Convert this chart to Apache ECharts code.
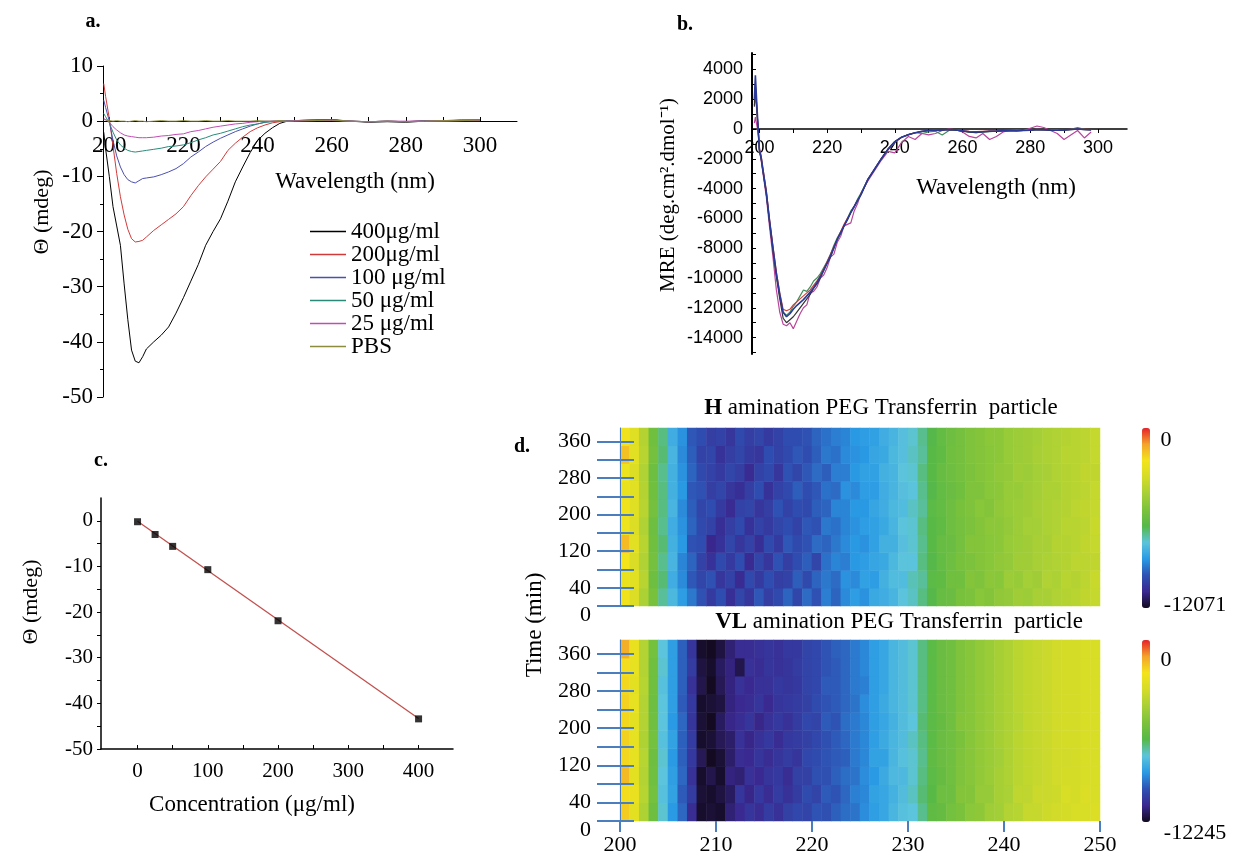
<!DOCTYPE html>
<html>
<head>
<meta charset="utf-8">
<title>CD spectra</title>
<script src="https://cdn.jsdelivr.net/npm/echarts@6/dist/echarts.min.js"></script>
<style>
  html, body { margin: 0; padding: 0; background: #fff; }
  #chart { width: 1233px; height: 862px; }
</style>
</head>
<body>
<div id="chart"></div>
<script>
// a. CD spectra at several concentrations (mdeg)
var waveA = [198.5, 199, 200, 201, 202, 203, 204, 205, 206, 207, 208, 209, 210,
  212, 214, 216, 218, 220, 222, 224, 226, 228, 230, 232, 234, 236, 238, 240, 242, 244, 246, 248, 250,
  255, 260, 265, 270, 275, 280, 285, 290, 295, 300]
var cd400 = [-2, -5, -10, -15.5, -19, -22.5, -29.5, -36, -41.5, -43.5, -43.8, -42.7, -41.3,
  -40, -38.8, -37.3, -34.8, -32, -29, -26, -22.5, -20, -17.7, -14.5, -11, -8.3, -5.7, -3.5, -2.2, -1.2, -0.4, 0, 0.1,
  0.2, 0.3, 0, -0.2, -0.1, -0.2, 0, 0.1, 0.2, 0.2]
var cd200 = [6.8, 4.5, 0.5, -4.5, -9.5, -13.7, -17, -19.6, -21.3, -21.9, -21.8, -21.6, -21,
  -19.8, -18.8, -17.8, -16.8, -15.5, -13.5, -11.7, -10.1, -8.7, -7.3, -5.3, -4, -2.9, -1.9, -1.2, -0.7, -0.3, -0.1, 0, 0.1,
  0.2, 0.2, 0, -0.1, 0, -0.1, 0.1, 0, 0.2, 0.2]
var cd100 = [3.8, 2.5, 0, -3.5, -6.3, -8.3, -9.7, -10.6, -11, -11.2, -10.8, -10.4, -10.3,
  -10.1, -9.7, -9.2, -8.6, -7.7, -6.5, -5.6, -4.6, -3.8, -3.1, -2.5, -1.9, -1.4, -0.9, -0.5, -0.2, 0, 0, 0.1, 0.1,
  0.2, 0.2, 0, -0.1, 0, -0.1, 0.1, 0, 0.1, 0.2]
var cd50 = [1.4, 0.8, -0.3, -2, -3.4, -4.3, -4.9, -5.3, -5.5, -5.6, -5.5, -5.4, -5.3,
  -5.1, -4.9, -4.6, -4.5, -4.3, -3.9, -3.4, -3, -2.5, -2.2, -1.8, -1.4, -1, -0.7, -0.5, -0.2, -0.1, 0, 0, 0.1,
  0.1, 0.2, 0, -0.1, 0, -0.1, 0, 0, 0.1, 0.1]
var cd25 = [0.5, 0.3, -0.2, -1, -1.6, -2.1, -2.5, -2.7, -2.8, -2.9, -3, -3, -3,
  -2.9, -2.7, -2.6, -2.4, -2.3, -1.9, -1.7, -1.4, -1.1, -0.9, -0.7, -0.5, -0.4, -0.2, -0.1, 0, 0, 0, 0, 0.1,
  0.1, 0.1, 0, -0.1, 0, 0, 0, 0.1, 0.1, 0.1]
var cdPBS = [0.3, 0.2, 0.1, 0, 0.1, 0, 0, -0.1, 0, 0.1, 0, 0, -0.1,
  0, 0.1, 0, 0, 0.1, 0, 0, 0.1, 0, 0, 0.1, 0, 0, 0, 0.1, 0, 0, 0.1, 0, 0,
  0.1, 0.2, 0, -0.1, 0, -0.1, 0, 0.1, 0.1, 0.2]
var concNames = ['400μg/ml', '200μg/ml', '100 μg/ml', '50 μg/ml', '25 μg/ml', 'PBS']

// b. mean residue ellipticity
var waveB = [198.5, 198.8, 199.2, 199.6, 200, 200.5,
  201, 202, 203, 204, 205, 206, 207, 208, 209, 210, 211, 212, 213, 214, 215,
  216, 217, 218, 219, 220, 221, 222, 223, 224, 225, 226, 227, 228, 229, 230,
  232, 234, 236, 238, 240, 242, 244, 246, 248, 250, 252, 254, 256, 258, 260, 262, 264,
  266, 268, 270, 272, 274, 276, 278, 280, 282, 284, 286, 288, 290, 292, 294, 296, 298]
var mreNavy = [2000, 3600, 1800, 100, -1400, -1900,
  -2700, -4200, -6200, -8000, -9700, -11100, -12300, -12600, -12400, -12100, -11850, -11650, -11450, -11200, -10950,
  -10650, -10300, -9900, -9450, -9000, -8500, -7950, -7400, -6950, -6500, -6050, -5600, -5200, -4800, -4400,
  -3400, -2700, -2000, -1350, -850, -550, -380, -250, -160, -100, -80, -60, -30, -60, -120, -180, -200,
  -180, -150, -140, -120, -100, -110, -100, -80, -30, -50, -70, -80, -60, -30, 0, -30, -50]
var mreBlack = [1500, 3000, 1500, 0, -1500, -2000,
  -2800, -4300, -6300, -8200, -9900, -11400, -12700, -13000, -12800, -12600, -12300, -12000, -11700, -11400, -11100,
  -10700, -10400, -10000, -9500, -9000, -8600, -8000, -7400, -7000, -6500, -6100, -5600, -5200, -4800, -4400,
  -3400, -2700, -2000, -1350, -850, -550, -380, -250, -170, -110, -90, -70, -50, -80, -150, -220, -250,
  -200, -160, -150, -130, -110, -120, -100, -90, -40, -60, -90, -100, -70, -40, -10, -40, -60]
var mreRed = [1800, 2800, 1400, 0, -1300, -1800,
  -2600, -4100, -6100, -7900, -9600, -11000, -12100, -12200, -12100, -11800, -11600, -11400, -11200, -11000, -10800,
  -10500, -10200, -9800, -9400, -8900, -8400, -7900, -7400, -6900, -6400, -6000, -5600, -5200, -4800, -4400,
  -3400, -2700, -2000, -1400, -900, -550, -380, -250, -150, -100, -70, -50, -20, -40, -100, -150, -170,
  -150, -130, -120, -100, -90, -100, -90, -70, -20, -40, -60, -70, -50, -20, 0, -20, -40]
var mreGreen = [1600, 2200, 1300, 100, -1400, -1900,
  -2700, -4200, -6200, -8000, -9800, -11200, -12300, -12500, -12300, -11900, -11600, -11200, -10800, -10900, -10600,
  -10200, -10000, -9700, -9300, -8900, -8400, -7800, -7300, -6900, -6500, -6000, -5500, -5200, -4700, -4300,
  -3400, -2700, -2000, -1350, -850, -550, -380, -250, -300, -200, -150, -400, -100, -60, -150, -200, -250,
  -200, -180, -150, -120, -100, -120, -100, -80, -30, -60, -80, -60, -60, -30, 100, -20, -40]
var mreMagenta = [400, 800, 300, -200, -1400, -2100,
  -2900, -4500, -6600, -8600, -10800, -12300, -13100, -13200, -13000, -13400, -12900, -12400, -12000, -11800, -11000,
  -10900, -10600, -10000, -9800, -9300, -8600, -8400, -7600, -7200, -6500, -6400, -6300, -5500, -5000, -4300,
  -3500, -2800, -2100, -1500, -1600, -900, -500, -700, -300, -400, -300, -100, 0, -50, -200, -500, -600,
  -300, -700, -500, -200, -100, -50, -100, 50, 200, 100, -100, -300, -700, -400, -100, -600, -200]

// c. ellipticity at 208 nm against concentration
var conc = [0, 25, 50, 100, 200, 400]
var theta = [-0.2, -3, -5.6, -10.7, -21.9, -43.4]
var fitConc = [0, 400]
var fitTheta = [-0.1, -43.3]

// d. MRE over time, 1 nm columns, 39 min rows (bottom row first)
var heatWave = [200, 201, 202, 203, 204, 205, 206, 207, 208, 209, 210, 211, 212, 213, 214, 215, 216, 217, 218, 219,
  220, 221, 222, 223, 224, 225, 226, 227, 228, 229, 230, 231, 232, 233, 234, 235, 236, 237, 238, 239,
  240, 241, 242, 243, 244, 245, 246, 247, 248, 249]
var heatTime = [0, 39, 78, 117, 156, 195, 234, 273, 312, 351]
var heatH = [
  [-2300, -3000, -4300, -5600, -7200, -8000, -8700,
   -9300, -9900, -10500, -10000, -10800, -10200, -10600, -9800, -10400, -10100, -9600, -10200, -9500, -9900, -9200, -9600,
   -9000, -8700, -8900, -8400, -8300, -8100, -7700, -7500,
   -7000, -6600, -6100, -6000, -5600, -5500, -5200, -5300, -5000, -4900, -4600, -4700, -4400, -4400, -4200, -4100, -4000, -3800, -3700],
  [-2500, -2800, -4000, -5900, -6900, -8300, -9000,
   -9800, -10200, -9900, -10600, -10300, -10900, -10100, -10500, -10000, -10400, -10300, -9700, -10100, -9600, -9300, -9500,
   -8900, -9000, -8600, -8700, -8200, -7900, -7900, -7400,
   -7200, -6400, -6300, -5800, -5800, -5300, -5400, -5100, -5200, -4700, -4800, -4500, -4600, -4200, -4300, -4000, -4100, -3900, -3600],
  [-2200, -3100, -4200, -5700, -7100, -8100, -9100,
   -9600, -10300, -10700, -10100, -10500, -10000, -10900, -10200, -10600, -9900, -10400, -10000, -9700, -10200, -9400, -9100,
   -9200, -8800, -8700, -8500, -8400, -8000, -7700, -7700,
   -7000, -6600, -6200, -5900, -5600, -5500, -5300, -5200, -5000, -4900, -4600, -4600, -4400, -4300, -4200, -4100, -3900, -3900, -3800],
  [-1500, -2800, -4000, -5800, -6900, -8200, -8800,
   -9900, -10000, -11000, -10700, -10200, -10600, -10300, -10800, -10100, -10500, -9800, -10100, -9900, -9500, -9600, -9300,
   -9000, -8800, -8900, -8600, -8200, -8200, -7800, -7600,
   -7100, -6500, -6100, -6000, -5700, -5300, -5300, -5200, -5100, -4800, -4700, -4600, -4400, -4400, -4100, -4100, -4000, -3800, -3700],
  [-2400, -3000, -4200, -5900, -7100, -8300, -8900,
   -9600, -10100, -10300, -10800, -10400, -10100, -10700, -10300, -10500, -10200, -10000, -10300, -9800, -9900, -9300, -9400,
   -9100, -8900, -8700, -8600, -8400, -8100, -7700, -7600,
   -7000, -6500, -6300, -5900, -5700, -5500, -5300, -5100, -5100, -4900, -4700, -4500, -4500, -4300, -4200, -4000, -4000, -3900, -3600],
  [-2300, -2900, -4000, -5700, -7000, -8100, -9000,
   -9700, -10200, -10000, -10500, -10900, -10300, -10200, -10600, -10400, -9900, -10300, -10000, -10100, -9700, -9600, -9100,
   -9100, -8800, -8800, -8500, -8300, -8000, -7900, -7500,
   -7200, -6400, -6200, -5900, -5600, -5400, -5200, -5300, -5000, -4800, -4700, -4600, -4400, -4300, -4200, -4100, -3900, -3800, -3700],
  [-2500, -2800, -4100, -5800, -7000, -8200, -8800,
   -9800, -9900, -10400, -10200, -10600, -10800, -10400, -10000, -10700, -10300, -10100, -9700, -10000, -9800, -9400, -9500,
   -8900, -9000, -8700, -8700, -8300, -8100, -7800, -7700,
   -7100, -6600, -6200, -6000, -5800, -5400, -5400, -5200, -5100, -4800, -4800, -4600, -4500, -4300, -4300, -4100, -4000, -3900, -3700],
  [-2400, -3000, -4200, -5900, -7100, -8200, -8900,
   -9600, -10100, -10300, -10500, -10200, -10400, -10900, -10300, -10100, -10600, -9900, -10200, -9800, -9500, -9700, -9200,
   -9200, -8800, -8600, -8600, -8200, -8100, -7700, -7600,
   -7000, -6500, -6100, -5900, -5700, -5500, -5300, -5200, -5000, -4900, -4600, -4700, -4500, -4400, -4200, -4100, -4000, -3800, -3800],
  [-1600, -2800, -4000, -5700, -6900, -8100, -9000,
   -9700, -10300, -10200, -10700, -10400, -10200, -10500, -10600, -10000, -10300, -10100, -9800, -10000, -9700, -9300, -9400,
   -9000, -8900, -8800, -8500, -8400, -8000, -7800, -7500,
   -7200, -6500, -6300, -5800, -5700, -5400, -5300, -5200, -5100, -4800, -4700, -4600, -4400, -4300, -4200, -4000, -4000, -3900, -3700],
  [-2300, -2900, -4100, -5800, -7000, -8300, -8900,
   -9800, -10000, -10400, -10300, -10600, -10100, -10400, -10200, -10500, -10300, -10000, -10000, -9900, -9600, -9400, -9200,
   -9100, -8800, -8700, -8600, -8300, -8100, -7800, -7600,
   -7100, -6600, -6200, -5900, -5700, -5400, -5300, -5100, -5100, -4800, -4700, -4600, -4500, -4300, -4200, -4100, -4000, -3900, -3700]
]
var heatVL = [
  [-1800, -2800, -4300, -6000, -7700, -8900, -9700,
   -11000, -12100, -12000, -12100, -11400, -11100, -10800, -11000, -10600, -10900, -10500, -10300, -10400, -10000, -10100, -9800,
   -9600, -9500, -9100, -8800, -8600, -8200, -7900, -7800,
   -7200, -6400, -6200, -5800, -5600, -5200, -5100, -4700, -4600, -4200, -4100, -3700, -3700, -3500, -3400, -3300, -3200, -3200, -3100],
  [-2100, -2600, -4100, -5800, -7900, -8700, -9900,
   -10600, -12000, -12100, -11900, -11600, -10800, -11200, -10700, -11000, -10600, -10900, -10600, -10200, -10400, -9900, -10000,
   -9700, -9300, -9200, -8700, -8600, -8300, -8000, -7600,
   -7000, -6600, -6000, -6000, -5400, -5400, -4900, -4900, -4500, -4400, -3900, -3900, -3600, -3600, -3500, -3200, -3300, -3100, -3200],
  [-1500, -2800, -4200, -5900, -7800, -8800, -9700,
   -10900, -12100, -11800, -12100, -11300, -11400, -10900, -11100, -10800, -10700, -11000, -10500, -10500, -10100, -10100, -9800,
   -9600, -9500, -9100, -8900, -8500, -8100, -8100, -7700,
   -7100, -6500, -6200, -5900, -5500, -5300, -5000, -4800, -4500, -4300, -4000, -3800, -3700, -3600, -3400, -3300, -3300, -3200, -3200],
  [-2000, -2700, -4100, -6000, -7700, -8900, -9800,
   -10700, -11700, -12200, -12000, -11500, -11000, -11100, -10800, -11000, -10800, -10600, -10800, -10300, -10200, -10000, -9900,
   -9800, -9400, -9200, -8700, -8700, -8200, -7900, -7700,
   -7200, -6400, -6100, -5900, -5500, -5300, -5000, -4800, -4600, -4300, -4000, -3800, -3700, -3600, -3400, -3400, -3300, -3200, -3200],
  [-1900, -2700, -4300, -5800, -7900, -8700, -9800,
   -10600, -12100, -12000, -11700, -11500, -10900, -11200, -10900, -10700, -11000, -10700, -10600, -10500, -10300, -10100, -9900,
   -9700, -9400, -9200, -8800, -8500, -8200, -8000, -7600,
   -7100, -6500, -6100, -5900, -5600, -5300, -5000, -4800, -4500, -4300, -4000, -3800, -3700, -3600, -3400, -3300, -3300, -3200, -3200],
  [-2000, -2800, -4200, -5900, -7800, -8900, -9700,
   -10800, -12000, -12200, -11600, -11200, -11000, -10800, -11200, -10900, -10700, -10900, -10600, -10300, -10400, -9900, -10000,
   -9600, -9400, -9200, -8800, -8600, -8300, -8000, -7800,
   -7000, -6500, -6200, -5900, -5400, -5300, -5000, -4800, -4500, -4300, -4100, -3800, -3700, -3600, -3400, -3300, -3300, -3200, -3200],
  [-1900, -2700, -4200, -6000, -7800, -8800, -9900,
   -10700, -12100, -12000, -11900, -11300, -11100, -11000, -10800, -11100, -10800, -10700, -10600, -10500, -10200, -10000, -9900,
   -9700, -9500, -9100, -8800, -8500, -8200, -8000, -7700,
   -7100, -6500, -6100, -5900, -5500, -5300, -5000, -4800, -4500, -4300, -4000, -3800, -3700, -3600, -3400, -3300, -3300, -3200, -3200],
  [-2000, -2800, -4100, -5900, -7900, -8800, -9800,
   -10900, -11800, -12200, -11700, -11300, -10900, -11100, -10900, -10900, -10700, -10800, -10700, -10400, -10300, -9900, -9900,
   -9700, -9400, -9300, -8800, -8600, -8200, -8000, -7700,
   -7100, -6500, -6100, -5900, -5500, -5300, -5000, -4800, -4500, -4300, -4000, -3800, -3700, -3600, -3400, -3300, -3300, -3200, -3200],
  [-2100, -2700, -4200, -5900, -7700, -8800, -9800,
   -10600, -11900, -12100, -11600, -11300, -11800, -10900, -11000, -10800, -10900, -10800, -10600, -10400, -10300, -10000, -9900,
   -9700, -9400, -9200, -8800, -8600, -8200, -8000, -7700,
   -7100, -6500, -6100, -5900, -5500, -5300, -5000, -4800, -4500, -4300, -4000, -3800, -3700, -3600, -3400, -3300, -3300, -3200, -3200],
  [-1300, -2600, -4200, -5800, -7800, -8800, -9800,
   -10800, -12100, -12200, -11900, -11400, -11000, -11000, -10900, -10800, -10900, -10700, -10700, -10400, -10300, -10000, -9800,
   -9700, -9400, -9200, -8800, -8600, -8200, -8000, -7700,
   -7100, -6500, -6100, -5900, -5500, -5300, -5000, -4800, -4500, -4300, -4000, -3800, -3700, -3600, -3400, -3300, -3300, -3200, -3200]
]
var heatMinH = -12071
var heatMinVL = -12245

// tick labels
var ticksA = [200, 220, 240, 260, 280, 300]
var ticksB = [-14000, -12000, -10000, -8000, -6000, -4000, -2000, 0, 2000, 4000]
var ticksC = [0, 100, 200, 300, 400]
var ticksTime = [0, 40, 120, 200, 280, 360]

var serif = "'Liberation Serif','Times New Roman',serif"
var sans = "'Liberation Sans',Arial,sans-serif"
var tickBlue = '#4a7ebf'
var jet = ['#120a1e', '#3a2890', '#2e52b4', '#2a9ae4', '#5cc4dc', '#56b848', '#7cc23c',
  '#a8d036', '#d4dc28', '#f3e41c', '#f4a42a', '#e62229']

function pairs(xs, ys) {
  return xs.map(function (x, i) { return [x, ys[i]] })
}
function cells(rows) {
  var out = []
  rows.forEach(function (row, r) {
    row.forEach(function (v, c) { out.push([c, r, v]) })
  })
  return out
}
function steps(a, b, s) { // tick positions
  var out = []
  for (var v = a; v <= b + 1e-9; v += s) out.push(Math.round(v * 100) / 100)
  return out
}
function label(x, y, text, size, extra) {
  var st = { text: text, fill: '#000', fontSize: size, fontFamily: serif,
    textAlign: 'center', align: 'center', textVerticalAlign: 'middle', verticalAlign: 'middle' }
  for (var k in extra || {}) st[k] = extra[k]
  return { type: 'text', x: x, y: y, z: 20, style: st }
}
function line(name, xs, ys, color, width, xi) {
  return {
    name: name, type: 'line', xAxisIndex: xi, yAxisIndex: xi,
    data: pairs(xs, ys), showSymbol: false, symbol: 'none',
    lineStyle: { color: color, width: width }, itemStyle: { color: color }
  }
}
// time labels: the 0 label sits a little below its tick
var timeLabel = {
  customValues: ticksTime, fontSize: 22, fontFamily: serif, color: '#000', margin: 29, showMinLabel: true,
  formatter: function (v) { return v === 0 ? '{z|0}' : String(v) },
  rich: { z: { padding: [18, 0, 0, 0], fontSize: 22, fontFamily: serif, color: '#000' } }
}

var aColors = ['#000000', '#d23a3a', '#4a4fb0', '#2a8a78', '#c04cb4', '#8c8c3c']
var blank = { show: false }
var black = { color: '#000' }

var option = {
  animation: false,
  textStyle: { fontFamily: serif },
  grid: [
    { left: 103, top: 66, width: 414, height: 331 },
    { left: 752, top: 53, width: 375, height: 301 },
    { left: 101, top: 498, width: 352, height: 251 },
    { left: 620, top: 428, width: 480, height: 178 },
    { left: 620, top: 428, width: 480, height: 178 },
    { left: 620, top: 640, width: 480, height: 181 },
    { left: 620, top: 640, width: 480, height: 181 }
  ],
  legend: {
    data: concNames, orient: 'vertical', left: 310, top: 220, padding: 0,
    icon: 'rect', itemWidth: 36, itemHeight: 1.3, itemGap: 0, selectedMode: false,
    textStyle: { fontSize: 23, lineHeight: 19.5, fontFamily: serif, color: '#000' }
  },
  xAxis: [
    // axis line sits on y = 0, moved up from the grid bottom
    { gridIndex: 0, type: 'value', min: 198.3, max: 310, offset: -276,
      axisLine: { onZero: false, lineStyle: black },
      axisTick: { inside: true, length: 4, customValues: steps(200, 300, 10), lineStyle: black },
      axisLabel: { customValues: ticksA, fontSize: 23, fontFamily: serif, color: '#000', margin: 13 },
      splitLine: blank },
    { gridIndex: 1, type: 'value', min: 197.8, max: 308.6, offset: -225,
      axisLine: { onZero: false, lineStyle: { color: '#000', width: 1.5 } },
      axisTick: { length: 4, customValues: steps(200, 300, 10), lineStyle: black },
      axisLabel: { customValues: ticksA, fontSize: 18, fontFamily: sans, color: '#000', margin: 10 },
      splitLine: blank },
    { gridIndex: 2, type: 'value', min: -52, max: 449,
      axisLine: { onZero: false, lineStyle: { color: '#000', width: 1.5 } },
      axisTick: { inside: true, length: 4, customValues: steps(0, 400, 50), lineStyle: black },
      axisLabel: { customValues: ticksC, fontSize: 21, fontFamily: serif, color: '#000', margin: 12 },
      splitLine: blank },
    { gridIndex: 3, type: 'category', data: heatWave.map(String), show: false },
    { gridIndex: 4, type: 'value', min: 200, max: 250, show: false },
    { gridIndex: 5, type: 'category', data: heatWave.map(String), show: false },
    { gridIndex: 6, type: 'value', min: 200, max: 250, interval: 10, z: 10,
      axisLine: blank,
      axisTick: { length: 10, lineStyle: { color: tickBlue, width: 2 } },
      axisLabel: { fontSize: 22, fontFamily: serif, color: '#000', margin: 13 },
      splitLine: blank },
    { gridIndex: 6, type: 'value', min: 200, max: 250, interval: 10, z: 10,
      axisLine: blank,
      axisTick: { inside: true, length: 11, lineStyle: { color: tickBlue, width: 2 } },
      axisLabel: blank, splitLine: blank }
  ],
  yAxis: [
    { gridIndex: 0, type: 'value', min: -50, max: 10, interval: 10,
      axisLine: { show: true, onZero: false, lineStyle: black },
      axisTick: { show: true, length: 6, lineStyle: black },
      minorTick: { show: true, splitNumber: 2, length: 3, lineStyle: black },
      axisLabel: { fontSize: 23, fontFamily: serif, color: '#000', margin: 10 },
      splitLine: blank },
    { gridIndex: 1, type: 'value', min: -15100, max: 5100,
      axisLine: { show: true, onZero: false, lineStyle: { color: '#000', width: 2 } },
      axisTick: { show: true, inside: true, length: 4, customValues: steps(-15000, 5000, 1000), lineStyle: black },
      axisLabel: { customValues: ticksB, fontSize: 18, fontFamily: sans, color: '#000', margin: 9,
        formatter: function (v) { return String(v) } },
      splitLine: blank },
    { gridIndex: 2, type: 'value', min: -50, max: 5,
      axisLine: { show: true, onZero: false, lineStyle: { color: '#000', width: 1.5 } },
      axisTick: { show: true, length: 4, customValues: steps(-50, 0, 5), lineStyle: black },
      axisLabel: { customValues: steps(-50, 0, 10), fontSize: 21, fontFamily: serif, color: '#000', margin: 8 },
      splitLine: blank },
    { gridIndex: 3, type: 'category', data: heatTime.map(String), show: false },
    { gridIndex: 4, type: 'value', min: 0, max: 390, z: 10,
      axisLine: { show: true, onZero: false, lineStyle: { color: tickBlue, width: 1 } },
      axisTick: { show: true, length: 23, customValues: steps(0, 360, 40), lineStyle: { color: tickBlue, width: 2 } },
      axisLabel: timeLabel,
      splitLine: blank },
    { gridIndex: 4, type: 'value', min: 0, max: 390, z: 10, position: 'left', offset: 0,
      axisLine: blank,
      axisTick: { show: true, inside: true, length: 14, customValues: steps(0, 360, 40), lineStyle: { color: tickBlue, width: 2 } },
      axisLabel: blank, splitLine: blank },
    { gridIndex: 5, type: 'category', data: heatTime.map(String), show: false },
    { gridIndex: 6, type: 'value', min: 0, max: 390, z: 10,
      axisLine: { show: true, onZero: false, lineStyle: { color: tickBlue, width: 1 } },
      axisTick: { show: true, length: 23, customValues: steps(0, 360, 40), lineStyle: { color: tickBlue, width: 2 } },
      axisLabel: timeLabel,
      splitLine: blank },
    { gridIndex: 6, type: 'value', min: 0, max: 390, z: 10, position: 'left', offset: 0,
      axisLine: blank,
      axisTick: { show: true, inside: true, length: 14, customValues: steps(0, 360, 40), lineStyle: { color: tickBlue, width: 2 } },
      axisLabel: blank, splitLine: blank }
  ],
  visualMap: [
    { type: 'continuous', seriesIndex: 13, min: heatMinH, max: 0, left: 1142, top: 428,
      itemWidth: 8, itemHeight: 180, padding: 0, calculable: false, inRange: { color: jet } },
    { type: 'continuous', seriesIndex: 14, min: heatMinVL, max: 0, left: 1142, top: 640,
      itemWidth: 8, itemHeight: 182, padding: 0, calculable: false, inRange: { color: jet } }
  ],
  series: [
    line(concNames[0], waveA, cd400, aColors[0], 1, 0),
    line(concNames[1], waveA, cd200, aColors[1], 1, 0),
    line(concNames[2], waveA, cd100, aColors[2], 1, 0),
    line(concNames[3], waveA, cd50, aColors[3], 1, 0),
    line(concNames[4], waveA, cd25, aColors[4], 1, 0),
    line(concNames[5], waveA, cdPBS, aColors[5], 1, 0),
    line('magenta', waveB, mreMagenta, '#b8449c', 1.2, 1),
    line('green', waveB, mreGreen, '#3f8f5a', 1.2, 1),
    line('red', waveB, mreRed, '#d0413e', 1.2, 1),
    line('black', waveB, mreBlack, '#333333', 1.2, 1),
    line('navy', waveB, mreNavy, '#2b3a98', 1.6, 1),
    { name: 'fit', type: 'line', xAxisIndex: 2, yAxisIndex: 2, data: pairs(fitConc, fitTheta),
      showSymbol: false, symbol: 'none', lineStyle: { color: '#c0504d', width: 1.3 } },
    { name: 'points', type: 'scatter', xAxisIndex: 2, yAxisIndex: 2, data: pairs(conc, theta),
      symbol: 'rect', symbolSize: 7, itemStyle: { color: '#000' }, z: 5 },
    { name: 'H', type: 'heatmap', xAxisIndex: 3, yAxisIndex: 3, data: cells(heatH) },
    { name: 'VL', type: 'heatmap', xAxisIndex: 5, yAxisIndex: 6, data: cells(heatVL) }
  ],
  graphic: [
    label(93, 22, 'a.', 20, { fontWeight: 'bold' }),
    label(685, 25, 'b.', 20, { fontWeight: 'bold' }),
    label(101, 461, 'c.', 20, { fontWeight: 'bold' }),
    label(522, 447, 'd.', 20, { fontWeight: 'bold' }),
    label(42, 212, 'Θ (mdeg)', 22, {}),
    label(355, 182, 'Wavelength (nm)', 23, {}),
    label(668, 195, 'MRE (deg.cm².dmol⁻¹)', 21, {}),
    label(996, 188, 'Wavelength (nm)', 23, {}),
    label(31, 602, 'Θ (mdeg)', 22, {}),
    label(252, 805, 'Concentration (μg/ml)', 23, {}),
    label(881, 408, '{b|H} amination PEG Transferrin  particle', 23,
      { rich: { b: { fontWeight: 'bold', fontSize: 23, fontFamily: serif } } }),
    label(899, 622, '{b|VL} amination PEG Transferrin  particle', 23,
      { rich: { b: { fontWeight: 'bold', fontSize: 23, fontFamily: serif } } }),
    label(535, 625, 'Time (min)', 23, {}),
    label(1166, 440, '0', 22, {}),
    label(1195, 605, '-12071', 22, {}),
    label(1166, 660, '0', 22, {}),
    label(1195, 833, '-12245', 22, {})
  ]
}
// rotate the vertical axis titles
;[4, 6, 8, 12].forEach(function (i) { option.graphic[i].rotation = Math.PI / 2 })

var chart = echarts.init(document.getElementById('chart'))
chart.setOption(option)
window.addEventListener('resize', function () { chart.resize() })
</script>
</body>
</html>
